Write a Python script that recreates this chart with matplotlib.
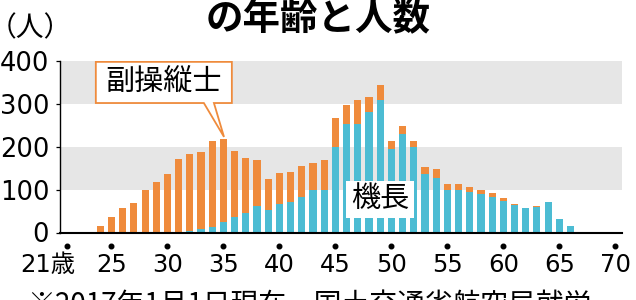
import matplotlib
matplotlib.use('Agg')
import matplotlib.pyplot as plt
from matplotlib.patches import Polygon, Rectangle

# ---- data ----
ages = [24, 25, 26, 27, 28, 29, 30, 31, 32, 33, 34, 35, 36, 37, 38, 39, 40,
        41, 42, 43, 44, 45, 46, 47, 48, 49, 50, 51, 52, 53, 54, 55, 56, 57,
        58, 59, 60, 61, 62, 63, 64, 65, 66]
captains = [0, 0, 0, 0, 0, 0, 1, 2, 4, 7, 12, 24, 37, 45, 62, 53, 67,
            70, 82, 99, 100, 200, 252, 252, 281, 310, 194, 230, 200, 136, 127, 100, 99, 95,
            89, 83, 74, 64, 56, 59, 72, 31, 15]
copilots = [15, 37, 58, 68, 99, 117, 136, 169, 180, 180, 201, 194, 153, 129, 106, 72, 72,
            71, 73, 63, 69, 68, 45, 58, 35, 33, 19, 19, 13, 17, 20, 13, 14, 12,
            11, 10, 7, 2, 1, 3, 0, 0, 0]
ytick_values = [0, 100, 200, 300, 400]
xtick_values = [21, 25, 30, 35, 40, 45, 50, 55, 60, 65, 70]
xtick_labels = ['21歳', '25', '30', '35', '40', '45', '50', '55', '60', '65', '70']
label_copilot = '副操縦士'
label_captain = '機長'
title = 'の年齢と人数'
unit = '（人）'
footnote = '※2017年1月1日現在、国土交通省航空局就労'

ORANGE = '#EF8B3C'
BLUE = '#4CBCD3'
GRAY = '#E6E6E6'
CJK = ['Noto Sans CJK JP', 'DejaVu Sans']
NUM = ['DejaVu Sans', 'Noto Sans CJK JP']

fig = plt.figure(figsize=(6.36, 3.0), dpi=100)
ax = fig.add_axes([60 / 636, 67.5 / 300, 562 / 636, 171.5 / 300])
ax.set_xlim(20.4, 70.6)
ax.set_ylim(0, 400)

for lo, hi in [(100, 200), (300, 400)]:
    ax.axhspan(lo, hi, color=GRAY, lw=0, zorder=0)

ax.bar(ages, captains, width=0.64, color=BLUE, lw=0, zorder=2)
ax.bar(ages, copilots, bottom=captains, width=0.64, color=ORANGE, lw=0, zorder=2)

for s in ['top', 'right']:
    ax.spines[s].set_visible(False)
ax.spines['left'].set_linewidth(1.0)
ax.spines['bottom'].set_linewidth(1.5)
ax.spines['bottom'].set_zorder(3)

ax.set_yticks(ytick_values)
ax.set_yticklabels([str(v) for v in ytick_values], fontsize=18.5, family=NUM)
ax.tick_params(axis='y', direction='out', length=2.8, width=0.9, pad=5)
ax.set_xticks([])

xt = ax.get_xaxis_transform()
ax.plot(xtick_values, [-0.079] * len(xtick_values), 'o', ms=3.3, color='black',
        transform=xt, clip_on=False)
for x, lab in zip(xtick_values, xtick_labels):
    if lab.endswith('歳'):
        ax.text(x + 0.8, -0.230, lab, ha='right', va='baseline', transform=xt,
                fontsize=17.5, family=NUM)
    else:
        ax.text(x, -0.230, lab, ha='center', va='baseline', transform=xt,
                fontsize=17.5, family=NUM)

# copilot callout
i35 = ages.index(35)
tip_x = ages[i35] + 0.05
tip_y = captains[i35] + copilots[i35] + 5
bx0, bx1, by0, by1 = 23.6, 35.75, 302, 398
callout = Polygon([(bx0, by0), (bx0, by1), (bx1, by1), (bx1, by0),
                   (tip_x - 0.9, by0), (tip_x, tip_y), (tip_x - 1.8, by0)],
                  closed=True, fc='white', ec=ORANGE, lw=1.3, zorder=4,
                  joinstyle='miter')
ax.add_patch(callout)
ax.text((bx0 + bx1) / 2, (by0 + by1) / 2 + 2, label_copilot, ha='center', va='center',
        fontsize=21, family=CJK, zorder=5)

# captain label
cx0, cx1, cy0, cy1 = 45.95, 52.0, 34, 120
ax.add_patch(Rectangle((cx0, cy0), cx1 - cx0, cy1 - cy0, fc='white', ec='none', zorder=4))
ax.text((cx0 + cx1) / 2, (cy0 + cy1) / 2, label_captain, ha='center', va='center',
        fontsize=21, family=CJK, zorder=5)

fig.text(0.5, 0.90, title, ha='center', va='baseline', fontsize=27,
         fontweight='bold', family=CJK)
fig.text(30 / 636, 0.905, unit, ha='center', va='center', fontsize=20, family=CJK)
fig.text(27 / 636, -0.047, footnote, ha='left', va='baseline', fontsize=20, family=CJK)

fig.savefig('out.png', dpi=100, facecolor='white')
